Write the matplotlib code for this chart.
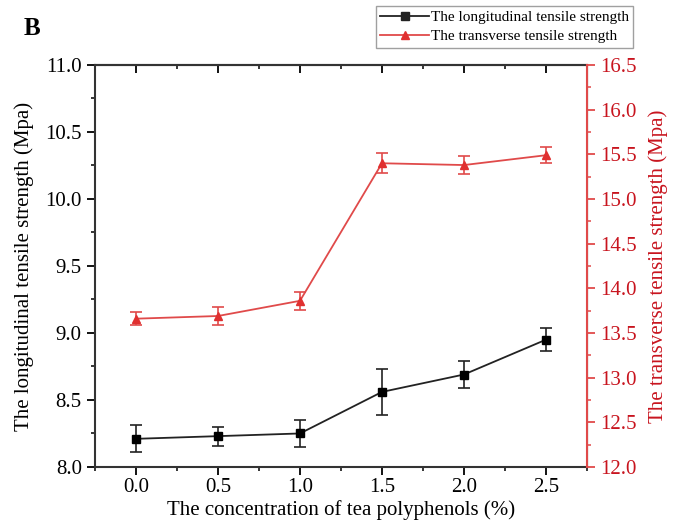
import matplotlib
matplotlib.use('Agg')
import matplotlib.pyplot as plt
from matplotlib.lines import Line2D
from matplotlib.ticker import MultipleLocator

plt.rcParams['font.family'] = ['Liberation Serif', 'DejaVu Serif']

# data
concentration = [0.0, 0.5, 1.0, 1.5, 2.0, 2.5]
longitudinal = [8.21, 8.23, 8.25, 8.56, 8.69, 8.95]
longitudinal_err = [0.10, 0.07, 0.10, 0.17, 0.10, 0.085]
transverse = [13.66, 13.69, 13.86, 15.40, 15.38, 15.49]
transverse_err = [0.07, 0.10, 0.10, 0.11, 0.10, 0.09]

RED = '#e04a4a'
RED_TXT = '#c8141e'

fig = plt.figure(figsize=(6.75, 5.2), dpi=100)
ax = fig.add_axes([0.1407, 0.102, 0.7289, 0.773])
ax2 = ax.twinx()

ax.errorbar(concentration, longitudinal, yerr=longitudinal_err, color='#222222',
            marker='s', markersize=6, markerfacecolor='black', markeredgecolor='black',
            linewidth=1.3, elinewidth=1.2, capsize=4, capthick=1.2)
ax2.errorbar(concentration, transverse, yerr=transverse_err, color=RED,
             marker='^', markersize=6, markerfacecolor='#e03030', markeredgecolor='#e03030',
             linewidth=1.3, elinewidth=1.2, capsize=4, capthick=1.2)

ax.set_xlim(-0.25, 2.75)
ax.set_ylim(8.0, 11.0)
ax2.set_ylim(12.0, 16.5)

ax.xaxis.set_major_locator(MultipleLocator(0.5))
ax.xaxis.set_minor_locator(MultipleLocator(0.25))
ax.yaxis.set_major_locator(MultipleLocator(0.5))
ax.yaxis.set_minor_locator(MultipleLocator(0.25))
ax2.yaxis.set_major_locator(MultipleLocator(0.5))
ax2.yaxis.set_minor_locator(MultipleLocator(0.25))
ax.xaxis.set_major_formatter(plt.FormatStrFormatter('%.1f'))
ax.yaxis.set_major_formatter(plt.FormatStrFormatter('%.1f'))
ax2.yaxis.set_major_formatter(plt.FormatStrFormatter('%.1f'))

ax.tick_params(axis='x', which='both', direction='out', labelsize=15, pad=2)
ax.tick_params(axis='x', which='major', length=6, width=1.3)
ax.tick_params(axis='x', which='minor', length=3, width=1.1)
ax.tick_params(axis='y', which='major', direction='out', length=6, width=1.3, labelsize=15)
ax.tick_params(axis='y', which='minor', direction='out', length=3, width=1.1)
ax2.tick_params(axis='y', which='major', direction='out', length=6, width=1.3,
                labelsize=15, colors=RED, labelcolor=RED_TXT)
ax2.tick_params(axis='y', which='minor', direction='out', length=3, width=1.1, colors=RED)

# top axis: inward ticks, no labels
top = ax.secondary_xaxis('top')
top.xaxis.set_major_locator(MultipleLocator(0.5))
top.xaxis.set_minor_locator(MultipleLocator(0.25))
top.tick_params(axis='x', which='major', direction='in', length=6, width=1.3, labeltop=False)
top.tick_params(axis='x', which='minor', direction='in', length=3, width=1.1)
top.spines['top'].set_linewidth(1.5)
top.spines['top'].set_color('#333333')

for s in ['left', 'bottom', 'top']:
    ax.spines[s].set_linewidth(1.5)
    ax.spines[s].set_color('#333333')
ax2.spines['right'].set_color(RED)
ax2.spines['right'].set_linewidth(1.5)
for s in ['left', 'bottom', 'top']:
    ax2.spines[s].set_visible(False)

ax.set_xlabel('The concentration of tea polyphenols (%)', fontsize=15, labelpad=2)
ax.set_ylabel('The longitudinal tensile strength (Mpa)', fontsize=15, labelpad=8)
ax2.set_ylabel('The transverse tensile strength (Mpa)', fontsize=15, color=RED_TXT, labelpad=8)

legend_handles = [
    Line2D([0], [0], color='#222222', marker='s', markersize=6, linewidth=1.3,
           label='The longitudinal tensile strength'),
    Line2D([0], [0], color=RED, marker='^', markersize=6, markerfacecolor='#e03030',
           markeredgecolor='#e03030', linewidth=1.3, label='The transverse tensile strength'),
]
fig.legend(handles=legend_handles, loc='upper right', bbox_to_anchor=(0.943, 0.995),
           fontsize=11, frameon=True, fancybox=False, edgecolor='#888888',
           handlelength=3.2, borderpad=0.3, labelspacing=0.35, handletextpad=0.1,
           borderaxespad=0.2)

fig.text(0.035, 0.945, 'B', fontsize=18, fontweight='bold', ha='left', va='center')

fig.savefig('out.png', dpi=100)
plt.close(fig)
